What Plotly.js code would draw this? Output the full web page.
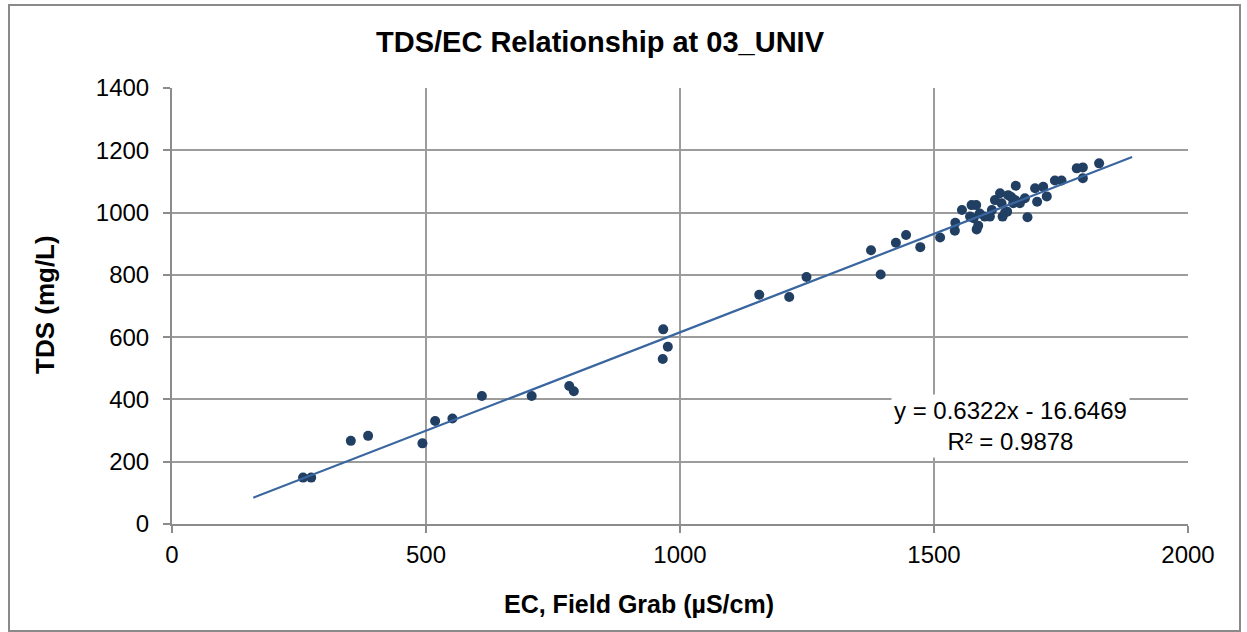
<!DOCTYPE html>
<html>
<head>
<meta charset="utf-8">
<script src="https://cdn.plot.ly/plotly-3.0.1.min.js"></script>
<style>
html,body{margin:0;padding:0;background:#fff;}
#chart{width:1247px;height:632px;}
</style>
</head>
<body>
<div id="chart"></div>
<script>
// Field grab EC (µS/cm) and TDS (mg/L)
const ecValues = [258, 274, 352, 386, 493, 518, 552, 610, 708, 782, 791, 967, 976, 966,
  1156, 1215, 1249, 1376, 1395, 1425, 1445, 1473, 1512, 1541, 1542, 1555, 1571, 1574,
  1578, 1583, 1584, 1587, 1590, 1600, 1610, 1614, 1620, 1630, 1633, 1635, 1644, 1646,
  1652, 1656, 1661, 1669, 1679, 1684, 1699, 1703, 1715, 1722, 1738, 1751, 1781, 1793,
  1793, 1825, 1660, 1640];
const tdsValues = [149, 149, 267, 283, 259, 331, 339, 411, 411, 443, 426, 625, 569, 530,
  736, 729, 793, 879, 801, 903, 928, 889, 920, 942, 967, 1008, 987, 1024,
  982, 1024, 946, 958, 997, 987, 987, 1008, 1040, 1062, 1030, 987, 1003, 1056,
  1050, 1030, 1086, 1030, 1046, 985, 1078, 1035, 1083, 1052, 1103, 1103, 1142, 1145,
  1110, 1158, 1040, 1000];

// Linear trendline as labelled on the chart
const slope = 0.6322;
const intercept = -16.6469;
const trendX = [160, 1890];
const trendY = trendX.map(x => slope * x + intercept);

const xTicks = [0, 500, 1000, 1500, 2000];
const yTicks = [0, 200, 400, 600, 800, 1000, 1200, 1400];

const chartTitle = 'TDS/EC Relationship at 03_UNIV';
const xTitle = 'EC, Field Grab (µS/cm)';
const yTitle = 'TDS (mg/L)';
const eqText = 'y = 0.6322x - 16.6469<br>R² = 0.9878';

const FONT = 'Liberation Sans, Arial, sans-serif';

// layout geometry (pixels)
const L = 172, R = 1188, T = 88, B = 524, W = 1247, H = 632;
const pw = R - L, ph = B - T;
const px = p => (p - L) / pw;
const py = p => (B - p) / ph;

const traces = [
  {
    x: ecValues, y: tdsValues, type: 'scatter', mode: 'markers',
    marker: {color: '#213e63', size: 10},
    hoverinfo: 'x+y', showlegend: false
  },
  {
    x: trendX, y: trendY, type: 'scatter', mode: 'lines',
    line: {color: '#3a66a0', width: 2.2},
    hoverinfo: 'skip', showlegend: false
  }
];

const axisCommon = {
  showgrid: true, gridcolor: '#9c9c9c', gridwidth: 2,
  showline: true, linecolor: '#8c8c8c', linewidth: 2,
  ticks: 'outside', ticklen: 7, tickwidth: 2, tickcolor: '#8c8c8c',
  tickfont: {family: FONT, size: 24, color: '#000'},
  zeroline: false, fixedrange: true
};

const layout = {
  width: W, height: H,
  margin: {l: L, r: W - R, t: T, b: H - B, pad: 0},
  paper_bgcolor: '#fff', plot_bgcolor: '#fff',
  showlegend: false,
  xaxis: Object.assign({}, axisCommon, {
    range: [0, 2000], tickvals: xTicks, ticktext: xTicks.map(String),
    ticklabelstandoff: 1
  }),
  yaxis: Object.assign({}, axisCommon, {
    range: [0, 1400], tickvals: yTicks, ticktext: yTicks.map(String),
    ticklabelstandoff: 9
  }),
  shapes: [
    {type: 'rect', xref: 'paper', yref: 'paper',
     x0: px(9), x1: px(1240), y0: py(631), y1: py(5),
     line: {color: '#8a8a8a', width: 2}, fillcolor: 'rgba(0,0,0,0)', layer: 'below'}
  ],
  annotations: [
    {text: '<b>' + chartTitle + '</b>', xref: 'paper', yref: 'paper',
     x: px(600), y: py(42), xanchor: 'center', yanchor: 'middle', showarrow: false,
     font: {family: FONT, size: 29, color: '#000'}},
    {text: '<b>' + xTitle + '</b>', xref: 'paper', yref: 'paper',
     x: px(639), y: py(604), xanchor: 'center', yanchor: 'middle', showarrow: false,
     font: {family: FONT, size: 25, color: '#000'}},
    {text: '<b>' + yTitle + '</b>', xref: 'paper', yref: 'paper',
     x: px(45), y: py(305), xanchor: 'center', yanchor: 'middle', showarrow: false,
     textangle: -90,
     font: {family: FONT, size: 26, color: '#000'}},
    {text: eqText, xref: 'paper', yref: 'paper',
     x: px(1010), y: py(426), xanchor: 'center', yanchor: 'middle', showarrow: false,
     bgcolor: '#fff', borderpad: 2, align: 'center',
     font: {family: FONT, size: 24, color: '#000'}}
  ]
};

Plotly.newPlot('chart', traces, layout, {displayModeBar: false, staticPlot: true});
</script>
</body>
</html>
